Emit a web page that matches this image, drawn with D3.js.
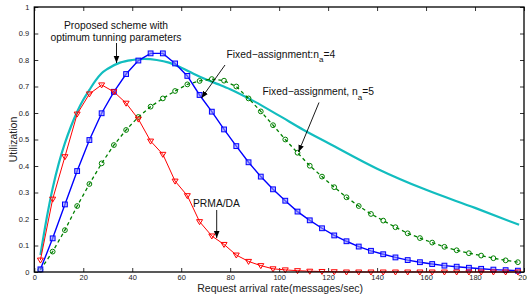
<!DOCTYPE html>
<html>
<head>
<meta charset="utf-8">
<script src="https://cdn.jsdelivr.net/npm/d3@7"></script>
<style>
  body { margin: 0; background: #fff; }
  svg { display: block; font-family: "Liberation Sans", Arial, Helvetica, sans-serif; }
  .tick text { font-size: 7.5px; fill: #222; }
  .tick line { stroke: #000; stroke-width: 0.8; }
</style>
</head>
<body>
<div id="chart"></div>
<script>
  // request arrival rate (messages/sec) at the marker points
  var rate = [2.5, 7.5, 12.5, 17.5, 22.5, 27.5, 32.5, 37.5, 42.5, 47.5,
              52.5, 57.5, 62.5, 67.5, 72.5, 77.5, 82.5, 87.5, 92.5, 97.5,
              102.5, 107.5, 112.5, 117.5, 122.5, 127.5, 132.5, 137.5, 142.5, 147.5,
              152.5, 157.5, 162.5, 167.5, 172.5, 177.5, 182.5, 187.5, 192.5, 197.5];

  var prmaDa = [0.045, 0.275, 0.435, 0.596, 0.672, 0.706, 0.68, 0.637, 0.577, 0.494,
                0.444, 0.343, 0.288, 0.19, 0.136, 0.104, 0.064, 0.04, 0.024, 0.012,
                0.008, 0.005, 0.003, 0.002, 0.001, 0, 0, 0, 0, 0,
                0, 0, 0, 0, 0, 0, 0, 0, 0, 0];

  var fixedNa4 = [0.01, 0.127, 0.255, 0.381, 0.498, 0.599, 0.68, 0.747, 0.798, 0.825,
                  0.825, 0.787, 0.74, 0.668, 0.605, 0.538, 0.475, 0.414, 0.36, 0.312,
                  0.269, 0.228, 0.195, 0.165, 0.138, 0.116, 0.096, 0.08, 0.067, 0.055,
                  0.045, 0.037, 0.03, 0.024, 0.02, 0.016, 0.012, 0.009, 0.007, 0.005];

  var fixedNa5 = [0.008, 0.077, 0.158, 0.249, 0.332, 0.41, 0.479, 0.536, 0.585, 0.624,
                  0.655, 0.683, 0.708, 0.721, 0.728, 0.722, 0.7, 0.655, 0.606, 0.554,
                  0.5, 0.45, 0.401, 0.36, 0.32, 0.282, 0.249, 0.219, 0.194, 0.169,
                  0.146, 0.128, 0.111, 0.095, 0.082, 0.071, 0.062, 0.052, 0.044, 0.037];

  // proposed scheme, smooth curve
  var proposedRate = [2.5, 5, 7.5, 10, 12.5, 15, 17.5, 20, 22.5, 25, 27.5, 30, 35, 40, 45,
                      50, 55, 60, 65, 70, 75, 80, 90, 100, 110, 120, 140, 160, 180, 198];
  var proposed = [0.064, 0.2, 0.316, 0.41, 0.486, 0.55, 0.605, 0.65, 0.687, 0.722, 0.75, 0.767, 0.79, 0.8, 0.804,
                  0.8, 0.79, 0.771, 0.748, 0.727, 0.709, 0.69, 0.643, 0.59, 0.536, 0.487, 0.39, 0.31, 0.242, 0.178];

  var xTicks = [0, 20, 40, 60, 80, 100, 120, 140, 160, 180, 200];
  var yTicks = [0, 0.1, 0.2, 0.3, 0.4, 0.5, 0.6, 0.7, 0.8, 0.9, 1];

  var W = 527, H = 297;
  var m = {left: 34.3, top: 7, right: 3, bottom: 25};
  var w = W - m.left - m.right, h = H - m.top - m.bottom;

  var svg = d3.select("#chart").append("svg")
    .attr("width", W).attr("height", H);

  var defs = svg.append("defs");
  defs.append("marker")
    .attr("id", "arrow")
    .attr("viewBox", "0 0 10 10")
    .attr("refX", 10).attr("refY", 5)
    .attr("markerWidth", 7).attr("markerHeight", 7)
    .attr("markerUnits", "userSpaceOnUse")
    .attr("orient", "auto")
    .append("path")
    .attr("d", "M0,1 L10,5 L0,9 Z")
    .attr("fill", "#000");
  defs.append("clipPath").attr("id", "clip")
    .append("rect").attr("x", -3).attr("y", -3).attr("width", w + 6).attr("height", h + 6);

  var g = svg.append("g").attr("transform", "translate(" + m.left + "," + m.top + ")");

  var x = d3.scaleLinear().domain([0, 200]).range([0, w]);
  var y = d3.scaleLinear().domain([0, 1]).range([h, 0]);

  var fmtY = function(d) { return d === 0 || d === 1 ? d : d.toFixed(1); };

  // axes (ticks inward, box style)
  g.append("g").attr("transform", "translate(0," + h + ")")
    .call(d3.axisBottom(x).tickValues(xTicks).tickSize(-4).tickPadding(3));
  g.append("g")
    .call(d3.axisLeft(y).tickValues(yTicks).tickSize(-4).tickPadding(5).tickFormat(fmtY));
  g.append("g")
    .call(d3.axisTop(x).tickValues(xTicks).tickSize(-4).tickFormat(""));
  g.append("g").attr("transform", "translate(" + w + ",0)")
    .call(d3.axisRight(y).tickValues(yTicks).tickSize(-4).tickFormat(""));
  g.selectAll(".domain").remove();

  var plot = g.append("g").attr("clip-path", "url(#clip)");

  var line = d3.line()
    .x(function(d) { return x(d[0]); })
    .y(function(d) { return y(d[1]); });

  // proposed scheme
  plot.append("path")
    .datum(d3.zip(proposedRate, proposed))
    .attr("fill", "none")
    .attr("stroke", "#12bdbf")
    .attr("stroke-width", 2.2)
    .attr("d", line.curve(d3.curveMonotoneX));
  line.curve(d3.curveLinear);

  // fixed assignment n_a = 5 (green dashed, circles)
  var greenData = d3.zip(rate, fixedNa5);
  plot.append("path")
    .datum(greenData)
    .attr("fill", "none")
    .attr("stroke", "#008000")
    .attr("stroke-width", 1.3)
    .attr("stroke-dasharray", "3.5,3")
    .attr("d", line);
  plot.selectAll(".green").data(greenData).enter()
    .append("circle")
    .attr("cx", function(d) { return x(d[0]); })
    .attr("cy", function(d) { return y(d[1]); })
    .attr("r", 2.4)
    .attr("fill", "none")
    .attr("stroke", "#008000")
    .attr("stroke-width", 1);

  // fixed assignment n_a = 4 (blue, squares)
  var blueData = d3.zip(rate, fixedNa4);
  plot.append("path")
    .datum(blueData)
    .attr("fill", "none")
    .attr("stroke", "#0000ff")
    .attr("stroke-width", 1.4)
    .attr("d", line);
  plot.selectAll(".blue").data(blueData).enter()
    .append("rect")
    .attr("x", function(d) { return x(d[0]) - 2.4; })
    .attr("y", function(d) { return y(d[1]) - 2.4; })
    .attr("width", 4.8).attr("height", 4.8)
    .attr("fill", "#8f8fff")
    .attr("fill-opacity", 0.6)
    .attr("stroke", "#0000ff")
    .attr("stroke-width", 1);

  // PRMA/DA (red, down triangles)
  var redData = d3.zip(rate, prmaDa);
  plot.append("path")
    .datum(redData)
    .attr("fill", "none")
    .attr("stroke", "#ff0000")
    .attr("stroke-width", 1)
    .attr("d", line);
  plot.selectAll(".red").data(redData).enter()
    .append("path")
    .attr("transform", function(d) { return "translate(" + x(d[0]) + "," + y(d[1]) + ")"; })
    .attr("d", "M-3,-2 L3,-2 L0,3 Z")
    .attr("fill", "none")
    .attr("stroke", "#ff0000")
    .attr("stroke-width", 1);

  // plot box
  g.append("rect")
    .attr("width", w).attr("height", h)
    .attr("fill", "none")
    .attr("stroke", "#000")
    .attr("stroke-width", 1.3);

  // axis labels
  svg.append("text")
    .attr("x", m.left + w / 2 + 1).attr("y", 292)
    .attr("text-anchor", "middle")
    .attr("font-size", 10.5).attr("fill", "#222")
    .text("Request arrival rate(messages/sec)");
  svg.append("text")
    .attr("transform", "translate(17," + (m.top + h / 2) + ") rotate(-90)")
    .attr("text-anchor", "middle")
    .attr("font-size", 10.5).attr("fill", "#222")
    .text("Utilization");

  // annotations
  var ann = svg.append("g").attr("font-size", 10.3).attr("fill", "#111");
  ann.append("text").attr("x", 116).attr("y", 29).attr("text-anchor", "middle")
    .text("Proposed scheme with");
  ann.append("text").attr("x", 116).attr("y", 40.5).attr("text-anchor", "middle")
    .text("optimum tunning parameters");

  var t4 = ann.append("text").attr("x", 226.5).attr("y", 57.5);
  t4.append("tspan").text("Fixed\u2212assignment:n");
  t4.append("tspan").attr("dy", 4.5).attr("font-size", 8).text("a");
  t4.append("tspan").attr("dy", -4.5).text("=4");

  var t5 = ann.append("text").attr("x", 262.5).attr("y", 95);
  t5.append("tspan").text("Fixed\u2212assignment, n");
  t5.append("tspan").attr("dy", 4.5).attr("font-size", 8).text("a");
  t5.append("tspan").attr("dy", -4.5).text("=5");

  ann.append("text").attr("x", 193).attr("y", 206.5).text("PRMA/DA");

  var arrows = [
    [116.5, 43, 116.5, 63],
    [225, 65, 201.5, 98],
    [319, 102.5, 298.5, 152],
    [216.7, 210, 216.7, 238]
  ];
  svg.append("g").selectAll("line").data(arrows).enter()
    .append("line")
    .attr("x1", function(d) { return d[0]; })
    .attr("y1", function(d) { return d[1]; })
    .attr("x2", function(d) { return d[2]; })
    .attr("y2", function(d) { return d[3]; })
    .attr("stroke", "#000")
    .attr("stroke-width", 0.9)
    .attr("marker-end", "url(#arrow)");
</script>
</body>
</html>
